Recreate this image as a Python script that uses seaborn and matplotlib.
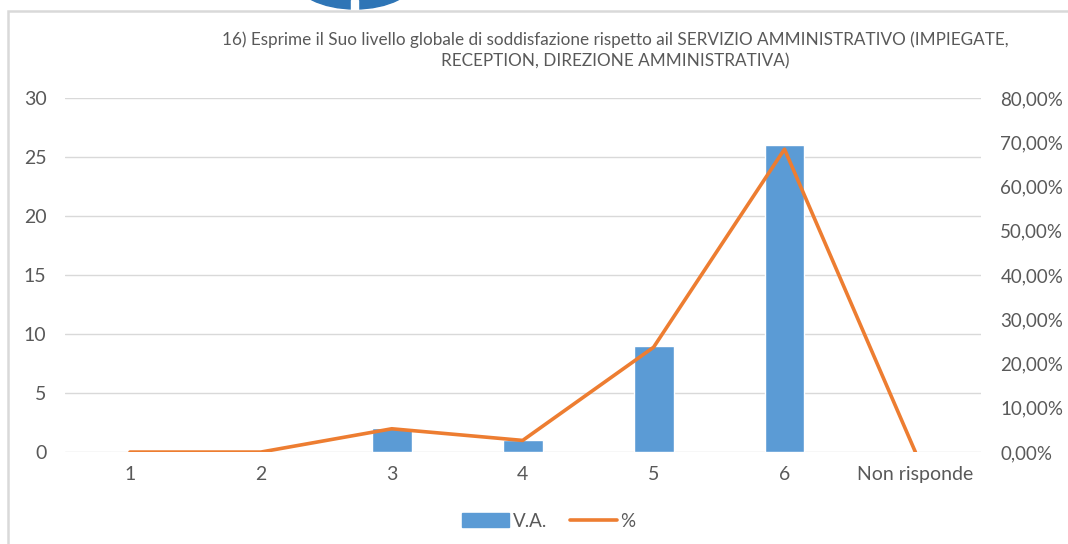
import seaborn as sns
import matplotlib.pyplot as plt
import pandas as pd
from matplotlib.patches import Circle, Rectangle
from matplotlib.lines import Line2D
from matplotlib.ticker import FuncFormatter

# Chart data
categories = ['1', '2', '3', '4', '5', '6', 'Non risponde']
va_counts = [0, 0, 2, 1, 9, 26, 0]
pct_values = [0.0, 0.0, 0.0526, 0.0263, 0.2368, 0.6842, 0.0]

title_text = ("16) Esprime il Suo livello globale di soddisfazione rispetto ail SERVIZIO AMMINISTRATIVO (IMPIEGATE,\n"
              "RECEPTION, DIREZIONE AMMINISTRATIVA)")

BAR_COLOR = '#5b9bd5'
LINE_COLOR = '#ed7d31'
TEXT_COLOR = '#595959'
GRID_COLOR = '#d9d9d9'

sns.set_theme(style='white')
plt.rcParams['font.family'] = ['Lato', 'DejaVu Sans']

df = pd.DataFrame({'cat': categories, 'va': va_counts, 'pct': pct_values})

fig = plt.figure(figsize=(10.68, 5.44), dpi=100)
ax = fig.add_axes([0.0604, 0.169, 0.858, 0.651])

sns.barplot(data=df, x='cat', y='va', order=categories, color=BAR_COLOR,
            width=0.305, saturation=1, ax=ax)
ax.set_ylim(0, 30)
ax.set_yticks(range(0, 31, 5))
ax.set_xlim(-0.5, len(categories) - 0.5)
ax.yaxis.grid(True, color=GRID_COLOR, linewidth=1)
ax.set_axisbelow(True)
ax.set_xlabel('')
ax.set_ylabel('')
for s in ax.spines.values():
    s.set_visible(False)
ax.tick_params(axis='both', length=0, labelsize=14, colors=TEXT_COLOR)
ax.tick_params(axis='x', pad=10)
ax.tick_params(axis='y', pad=13)

ax2 = ax.twinx()
sns.lineplot(data=df, x='cat', y='pct', color=LINE_COLOR, linewidth=2.6,
             sort=False, ax=ax2)
ax2.set_ylim(0, 0.8)
ax2.set_yticks([i / 10 for i in range(0, 9)])
ax2.yaxis.set_major_formatter(FuncFormatter(lambda v, p: f"{v * 100:.2f}%".replace('.', ',')))
ax2.set_ylabel('')
ax2.set_xlim(-0.5, len(categories) - 0.5)
for s in ax2.spines.values():
    s.set_visible(False)
ax2.tick_params(axis='y', length=0, labelsize=13.5, colors=TEXT_COLOR, pad=14)

fig.text(0.576, 0.908, title_text, ha='center', va='center', fontsize=12.3,
         color=TEXT_COLOR, linespacing=1.4)

handles = [Rectangle((0, 0), 1, 1, color=BAR_COLOR),
           Line2D([0], [0], color=LINE_COLOR, linewidth=2.6)]
fig.legend(handles, ['V.A.', '%'], loc='center', bbox_to_anchor=(0.514, 0.042),
           ncol=2, frameon=False, fontsize=13.5, labelcolor=TEXT_COLOR,
           handlelength=2.5, handleheight=0.75, columnspacing=1.2, handletextpad=0.2)

# outer chart frame and the piece of logo peeking at the top
fig.add_artist(Rectangle((8 / 1068, -0.1), 1.2, 1 - 11 / 544 + 0.1, transform=fig.transFigure,
                         fill=False, edgecolor=GRID_COLOR, linewidth=1.8))
fig.add_artist(Circle((355 / 1068, 1 + 22 / 544), 31 / 544, transform=fig.transFigure,
                      color='#2e75b6', zorder=-1))
fig.add_artist(Rectangle((351 / 1068, 1 - 12 / 544), 7 / 1068, 12 / 544, transform=fig.transFigure,
                         color='white', zorder=0))

fig.savefig('out.png', dpi=100)
